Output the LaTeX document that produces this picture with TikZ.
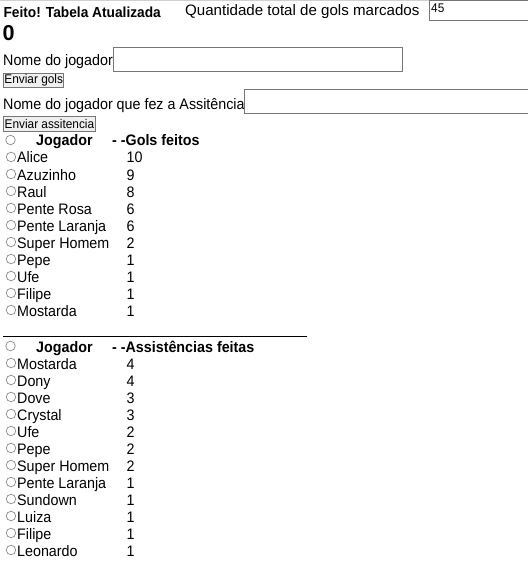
\documentclass[tikz,border=0pt]{standalone}
\usepackage{fontspec}
\setmainfont{Liberation Sans}
\newfontfamily\pagefont{Liberation Sans}[FakeStretch=0.94]
\definecolor{fieldgray}{HTML}{767676}
\definecolor{radiogray}{HTML}{8A8A8A}
\definecolor{btnfill}{HTML}{EFEFEF}
\definecolor{topline}{HTML}{D0D0D0}
\tikzset{
  txt/.style={inner sep=0pt, anchor=base west, font=\pagefont\fontsize{15.2}{18}\selectfont},
  btxt/.style={inner sep=0pt, anchor=base west, font=\pagefont\fontsize{15.2}{18}\selectfont\bfseries},
  radio/.style={draw=radiogray, line width=0.7pt, circle, minimum size=9.5pt, inner sep=0pt},
  field/.style={draw=fieldgray, line width=1pt, inner sep=0pt, anchor=north west},
  button/.style={draw=fieldgray, fill=btnfill, line width=0.8pt, inner sep=0pt, anchor=north west,
                 font=\pagefont\fontsize{12.6}{14}\selectfont},
}
\begin{document}
\begin{tikzpicture}[x=1pt,y=-1pt]
\useasboundingbox (0,0) rectangle (527,580);
% top grey line
\coordinate (tl) at (0,1);
\coordinate (tr) at (527,1);
\draw[topline, line width=1pt] (tl) -- (tr);
% top input field
\node[field, minimum width=120pt, minimum height=19.5pt] (total) at (429,0.5) {};
\node[inner sep=0pt, anchor=base west, font=\pagefont\fontsize{12.6}{14}\selectfont] (totalval) at (431,12.5) {45};
\node[inner sep=0pt, anchor=base west, font=\pagefont\fontsize{14.6}{17}\selectfont\bfseries] (feito) at (3.3,17.3) {Feito! Tabela Atualizada};
\node[inner sep=0pt, anchor=base west, font=\fontsize{15.1}{18}\selectfont] (qtd) at (185,16) {Quantidade total de gols marcados};
\node[inner sep=0pt, anchor=base west, font=\fontsize{21.6}{26}\selectfont\bfseries] (zero) at (2.5,40.5) {0};
% first form
\node[txt] (nome1) at (3,66) {Nome do jogador};
\node[field, minimum width=289pt, minimum height=24pt] (in1) at (113,47) {};
\node[button, minimum width=60pt, minimum height=14.6pt] (b1) at (3.3,72.7) {Enviar gols};
% second form
\node[txt] (nome2) at (3,110) {Nome do jogador que fez a Assitência};
\node[field, minimum width=300pt, minimum height=24pt] (in2) at (243.5,89) {};
\node[button, minimum width=91.4pt, minimum height=14.6pt] (b2) at (3.3,116) {Enviar assitencia};
% table 1
\node[radio] (h1r) at (10.5,140) {};
\node[btxt] (h1a) at (36,146) {Jogador};
\node[btxt] (h1b) at (112,146) {- -Gols feitos};
\foreach \nm/\nu [count=\i from 0] in {Alice/10,Azuzinho/9,Raul/8,Pente Rosa/6,Pente Laranja/6,Super Homem/2,Pepe/1,Ufe/1,Filipe/1,Mostarda/1}{
  \node[radio] (t1r\i) at (11,{157+17*\i}) {};
  \node[txt] (t1n\i) at (17,{163+17*\i}) {\nm};
  \node[txt] (t1g\i) at (126.5,{163+17*\i}) {\nu};
}
% separator
\coordinate (sl) at (3,336);
\coordinate (sr) at (307,336);
\draw[line width=1pt] (sl) -- (sr);
% table 2
\node[radio] (h2r) at (10.5,346) {};
\node[btxt] (h2a) at (36,352) {Jogador};
\node[btxt] (h2b) at (112,352) {- -Assistências feitas};
\foreach \nm/\nu [count=\i from 0] in {Mostarda/4,Dony/4,Dove/3,Crystal/3,Ufe/2,Pepe/2,Super Homem/2,Pente Laranja/1,Sundown/1,Luiza/1,Filipe/1,Leonardo/1}{
  \node[radio] (t2r\i) at (11,{363+17*\i}) {};
  \node[txt] (t2n\i) at (17,{369+17*\i}) {\nm};
  \node[txt] (t2g\i) at (126.5,{369+17*\i}) {\nu};
}
\end{tikzpicture}
\end{document}
